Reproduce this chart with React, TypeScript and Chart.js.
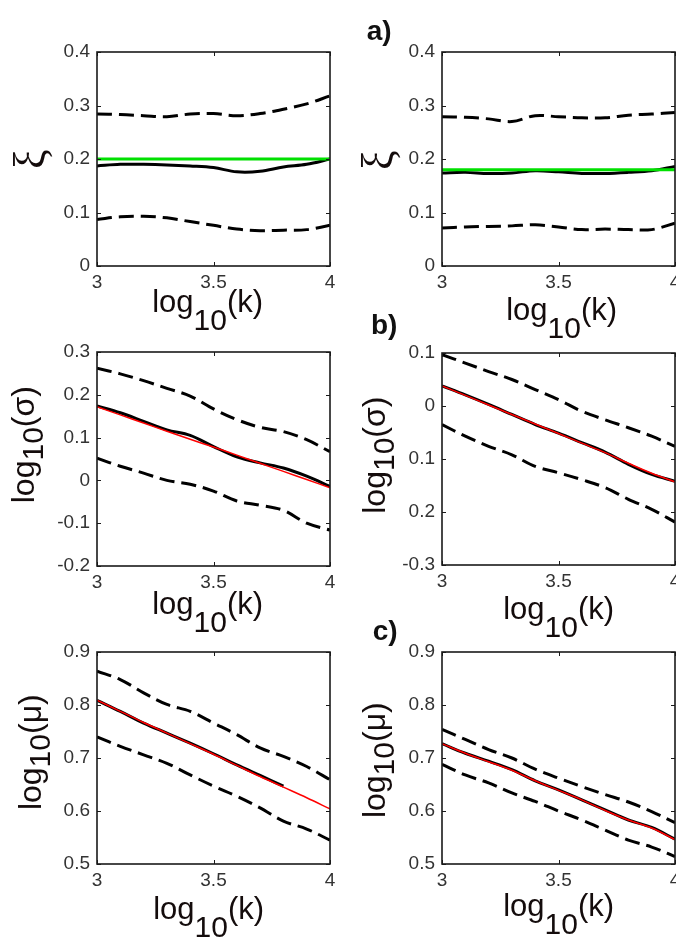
import React, { useEffect, useRef } from 'react';
import { Chart, registerables } from 'chart.js';

Chart.register(...registerables);

// ---------- data ----------
const kValues = [3.0, 3.1, 3.2, 3.3, 3.4, 3.5, 3.6, 3.7, 3.8, 3.9, 4.0];
const kTicks = [3, 3.5, 4];
const kTickLabels = ['3', '3.5', '4'];

const xiTicks = [0, 0.1, 0.2, 0.3, 0.4];
const xiTickLabels = ['0', '0.1', '0.2', '0.3', '0.4'];
const sigmaLeftTicks = [-0.2, -0.1, 0, 0.1, 0.2, 0.3];
const sigmaLeftTickLabels = ['-0.2', '-0.1', '0', '0.1', '0.2', '0.3'];
const sigmaRightTicks = [-0.3, -0.2, -0.1, 0, 0.1];
const sigmaRightTickLabels = ['-0.3', '0.2', '0.1', '0', '0.1'];
const muTicks = [0.5, 0.6, 0.7, 0.8, 0.9];
const muTickLabels = ['0.5', '0.6', '0.7', '0.8', '0.9'];

// a) xi, left
const xiLeftUpper = [0.284, 0.283, 0.281, 0.279, 0.284, 0.285, 0.281, 0.285, 0.293, 0.303, 0.318];
const xiLeftMean = [0.187, 0.19, 0.19, 0.189, 0.187, 0.184, 0.176, 0.177, 0.185, 0.19, 0.2];
const xiLeftLower = [0.087, 0.092, 0.093, 0.09, 0.083, 0.076, 0.069, 0.066, 0.067, 0.068, 0.076];
const xiLeftTrue = [0.2, 0.2, 0.2, 0.2, 0.2, 0.2, 0.2, 0.2, 0.2, 0.2, 0.2];
// a) xi, right
const xiRightUpper = [0.279, 0.278, 0.275, 0.27, 0.281, 0.279, 0.277, 0.277, 0.282, 0.284, 0.287];
const xiRightMean = [0.174, 0.175, 0.173, 0.174, 0.178, 0.176, 0.173, 0.173, 0.175, 0.178, 0.186];
const xiRightLower = [0.071, 0.073, 0.074, 0.075, 0.077, 0.073, 0.068, 0.069, 0.068, 0.068, 0.08];
const xiRightTrue = [0.18, 0.18, 0.18, 0.18, 0.18, 0.18, 0.18, 0.18, 0.18, 0.18, 0.18];
// b) log10(sigma), left
const sigmaLeftUpper = [0.262, 0.249, 0.233, 0.215, 0.197, 0.167, 0.142, 0.124, 0.114, 0.095, 0.067];
const sigmaLeftMean = [0.174, 0.158, 0.138, 0.118, 0.105, 0.079, 0.055, 0.041, 0.029, 0.01, -0.014];
const sigmaLeftLower = [0.052, 0.033, 0.017, 0.0, -0.009, -0.025, -0.048, -0.058, -0.07, -0.1, -0.116];
const sigmaLeftTrue = [0.172, 0.153, 0.134, 0.115, 0.096, 0.078, 0.059, 0.04, 0.021, 0.002, -0.017];
// b) log10(sigma), right
const sigmaRightUpper = [0.097, 0.081, 0.065, 0.05, 0.031, 0.012, -0.01, -0.026, -0.041, -0.057, -0.076];
const sigmaRightMean = [0.038, 0.021, 0.003, -0.016, -0.035, -0.051, -0.069, -0.087, -0.11, -0.129, -0.142];
const sigmaRightLower = [-0.035, -0.057, -0.076, -0.092, -0.114, -0.126, -0.139, -0.154, -0.176, -0.195, -0.219];
const sigmaRightTrue = [0.038, 0.02, 0.002, -0.016, -0.034, -0.052, -0.07, -0.088, -0.108, -0.127, -0.143];
// c) log10(mu), left
const muLeftUpper = [0.864, 0.848, 0.823, 0.801, 0.788, 0.766, 0.744, 0.719, 0.703, 0.684, 0.659];
const muLeftMean = [0.809, 0.788, 0.766, 0.747, 0.728, 0.708, 0.687, 0.667, 0.647, null, null];
const muLeftLower = [0.74, 0.722, 0.706, 0.69, 0.668, 0.647, 0.628, 0.606, 0.581, 0.566, 0.545];
const muLeftTrue = [0.809, 0.788, 0.767, 0.747, 0.727, 0.707, 0.686, 0.665, 0.645, 0.625, 0.604];
// c) log10(mu), right
const muRightUpper = [0.754, 0.735, 0.716, 0.7, 0.679, 0.662, 0.646, 0.631, 0.617, 0.599, 0.578];
const muRightMean = [0.727, 0.709, 0.694, 0.678, 0.657, 0.64, 0.621, 0.602, 0.583, 0.569, 0.547];
const muRightLower = [0.688, 0.668, 0.653, 0.634, 0.618, 0.6, 0.583, 0.564, 0.545, 0.532, 0.514];
const muRightTrue = [0.727, 0.709, 0.693, 0.677, 0.657, 0.639, 0.621, 0.601, 0.583, 0.568, 0.546];

// ---------- styling ----------
const SANS = '"Liberation Sans", Arial, Helvetica, sans-serif';
const SERIF = '"Liberation Serif", "Times New Roman", serif';
const GREEN = '#00e000';
const RED = '#ff0000';

type Part = { text: string; font: string; dy: number };

function xTitleParts(): Part[] {
  return [
    { text: 'log', font: `31px ${SANS}`, dy: 0 },
    { text: '10', font: `30px ${SANS}`, dy: 18 },
    { text: '(k)', font: `31px ${SANS}`, dy: 0 },
  ];
}
function yLogTitleParts(sym: string): Part[] {
  return [
    { text: 'log', font: `32px ${SANS}`, dy: 0 },
    { text: '10', font: `30px ${SANS}`, dy: 9 },
    { text: `(${sym})`, font: `32px ${SANS}`, dy: 0 },
  ];
}
function xiParts(): Part[] {
  return [{ text: 'ξ', font: `44px ${SERIF}`, dy: 0 }];
}

function drawComposite(ctx: CanvasRenderingContext2D, parts: Part[], cx: number, cy: number, rotate: boolean, color: string) {
  let x = 0;
  let minX = Infinity, maxX = -Infinity, minY = Infinity, maxY = -Infinity;
  const placed = parts.map((p) => {
    ctx.font = p.font;
    const m = ctx.measureText(p.text);
    const px = x;
    x += m.width;
    minX = Math.min(minX, px - m.actualBoundingBoxLeft);
    maxX = Math.max(maxX, px + m.actualBoundingBoxRight);
    minY = Math.min(minY, p.dy - m.actualBoundingBoxAscent);
    maxY = Math.max(maxY, p.dy + m.actualBoundingBoxDescent);
    return { ...p, px };
  });
  const ox = -(minX + maxX) / 2;
  const oy = -(minY + maxY) / 2;
  ctx.save();
  ctx.translate(cx, cy);
  if (rotate) ctx.rotate(-Math.PI / 2);
  ctx.textAlign = 'left';
  ctx.textBaseline = 'alphabetic';
  ctx.fillStyle = color;
  placed.forEach((p) => {
    ctx.font = p.font;
    ctx.fillText(p.text, p.px + ox, p.dy + oy);
  });
  ctx.restore();
}

type Label = { parts: Part[]; cx: number; cy: number; rotate: boolean; color: string };

type Panel = {
  canvas: { left: number; top: number; width: number; height: number };
  plot: { left: number; top: number; right: number; bottom: number };
  yMin: number;
  yMax: number;
  yTicks: number[];
  yTickLabels: string[];
  upper: (number | null)[];
  mean: (number | null)[];
  lower: (number | null)[];
  truth: (number | null)[];
  truthColor: string;
  truthWidth: number;
  labels: Label[];
};

const TITLE_COLOR = '#140c0c';

const panels: Panel[] = [
  {
    canvas: { left: 0, top: 0, width: 340, height: 345 },
    plot: { left: 97, top: 52, right: 330, bottom: 266 },
    yMin: 0, yMax: 0.4, yTicks: xiTicks, yTickLabels: xiTickLabels,
    upper: xiLeftUpper, mean: xiLeftMean, lower: xiLeftLower, truth: xiLeftTrue,
    truthColor: GREEN, truthWidth: 3,
    labels: [
      { parts: xiParts(), cx: 32.5, cy: 159, rotate: true, color: TITLE_COLOR },
      { parts: xTitleParts(), cx: 208, cy: 309.5, rotate: false, color: TITLE_COLOR },
    ],
  },
  {
    canvas: { left: 340, top: 0, width: 336, height: 345 },
    plot: { left: 442, top: 52, right: 675, bottom: 266 },
    yMin: 0, yMax: 0.4, yTicks: xiTicks, yTickLabels: xiTickLabels,
    upper: xiRightUpper, mean: xiRightMean, lower: xiRightLower, truth: xiRightTrue,
    truthColor: GREEN, truthWidth: 3,
    labels: [
      { parts: xiParts(), cx: 380.5, cy: 160, rotate: true, color: TITLE_COLOR },
      { parts: xTitleParts(), cx: 562, cy: 317.5, rotate: false, color: TITLE_COLOR },
      { parts: [{ text: 'a)', font: `bold 28px ${SANS}`, dy: 0 }], cx: 378.5, cy: 32.5, rotate: false, color: '#111' },
    ],
  },
  {
    canvas: { left: 0, top: 300, width: 340, height: 345 },
    plot: { left: 97, top: 352, right: 330, bottom: 566 },
    yMin: -0.2, yMax: 0.3, yTicks: sigmaLeftTicks, yTickLabels: sigmaLeftTickLabels,
    upper: sigmaLeftUpper, mean: sigmaLeftMean, lower: sigmaLeftLower, truth: sigmaLeftTrue,
    truthColor: RED, truthWidth: 1.5,
    labels: [
      { parts: yLogTitleParts('σ'), cx: 26.5, cy: 444.5, rotate: true, color: TITLE_COLOR },
      { parts: xTitleParts(), cx: 208, cy: 611.5, rotate: false, color: TITLE_COLOR },
    ],
  },
  {
    canvas: { left: 340, top: 300, width: 336, height: 345 },
    plot: { left: 442, top: 353, right: 675, bottom: 565 },
    yMin: -0.3, yMax: 0.1, yTicks: sigmaRightTicks, yTickLabels: sigmaRightTickLabels,
    upper: sigmaRightUpper, mean: sigmaRightMean, lower: sigmaRightLower, truth: sigmaRightTrue,
    truthColor: RED, truthWidth: 1.5,
    labels: [
      { parts: yLogTitleParts('σ'), cx: 377.5, cy: 455, rotate: true, color: TITLE_COLOR },
      { parts: xTitleParts(), cx: 559, cy: 616.5, rotate: false, color: TITLE_COLOR },
      { parts: [{ text: 'b)', font: `bold 28px ${SANS}`, dy: 0 }], cx: 384, cy: 327, rotate: false, color: '#111' },
    ],
  },
  {
    canvas: { left: 0, top: 610, width: 340, height: 330 },
    plot: { left: 97, top: 652, right: 330, bottom: 864 },
    yMin: 0.5, yMax: 0.9, yTicks: muTicks, yTickLabels: muTickLabels,
    upper: muLeftUpper, mean: muLeftMean, lower: muLeftLower, truth: muLeftTrue,
    truthColor: RED, truthWidth: 1.5,
    labels: [
      { parts: yLogTitleParts('μ'), cx: 33.5, cy: 752, rotate: true, color: TITLE_COLOR },
      { parts: xTitleParts(), cx: 209, cy: 916.5, rotate: false, color: TITLE_COLOR },
    ],
  },
  {
    canvas: { left: 340, top: 610, width: 336, height: 330 },
    plot: { left: 442, top: 652, right: 675, bottom: 864 },
    yMin: 0.5, yMax: 0.9, yTicks: muTicks, yTickLabels: muTickLabels,
    upper: muRightUpper, mean: muRightMean, lower: muRightLower, truth: muRightTrue,
    truthColor: RED, truthWidth: 1.5,
    labels: [
      { parts: yLogTitleParts('μ'), cx: 378, cy: 760, rotate: true, color: TITLE_COLOR },
      { parts: xTitleParts(), cx: 559, cy: 913.5, rotate: false, color: TITLE_COLOR },
      { parts: [{ text: 'c)', font: `bold 28px ${SANS}`, dy: 0 }], cx: 385, cy: 632.5, rotate: false, color: '#111' },
    ],
  },
];

function toPoints(ys: (number | null)[]) {
  return kValues.map((k, i) => ({ x: k, y: ys[i] }));
}

function PanelChart({ p }: { p: Panel }) {
  const ref = useRef<HTMLCanvasElement | null>(null);
  const c = p.canvas;
  useEffect(() => {
    if (!ref.current) return;
    const pl = p.plot;
    const padTop = pl.top - c.top;
    const padRight = c.left + c.width - pl.right;
    const yW = pl.left - c.left;
    const xH = c.top + c.height - pl.bottom;

    const overlay = {
      id: 'overlay',
      afterDraw(chart: any) {
        const ctx: CanvasRenderingContext2D = chart.ctx;
        const a = chart.chartArea;
        const xs = chart.scales.x;
        const ys = chart.scales.y;
        ctx.save();
        ctx.strokeStyle = '#1a1a1a';
        ctx.lineWidth = 1;
        const tl = 4;
        ctx.beginPath();
        kTicks.forEach((v) => {
          const px = Math.round(xs.getPixelForValue(v)) + 0.5;
          ctx.moveTo(px, a.bottom);
          ctx.lineTo(px, a.bottom - tl);
          ctx.moveTo(px, a.top);
          ctx.lineTo(px, a.top + tl);
        });
        p.yTicks.forEach((v) => {
          const py = Math.round(ys.getPixelForValue(v)) + 0.5;
          ctx.moveTo(a.left, py);
          ctx.lineTo(a.left + tl, py);
          ctx.moveTo(a.right, py);
          ctx.lineTo(a.right - tl, py);
        });
        ctx.stroke();
        ctx.lineWidth = 1.6;
        ctx.strokeRect(a.left, a.top, a.right - a.left, a.bottom - a.top);
        ctx.restore();
        p.labels.forEach((l) => {
          drawComposite(ctx, l.parts, l.cx - c.left, l.cy - c.top, l.rotate, l.color);
        });
      },
    };

    const dashed = {
      borderColor: '#000',
      borderWidth: 3,
      borderDash: [15, 7],
      order: 2,
    };

    const chart = new Chart(ref.current, {
      type: 'line',
      data: {
        datasets: [
          { data: toPoints(p.truth), borderColor: p.truthColor, borderWidth: p.truthWidth, order: 0 },
          { data: toPoints(p.mean), borderColor: '#000', borderWidth: 3, order: 1 },
          { data: toPoints(p.upper), ...dashed },
          { data: toPoints(p.lower), ...dashed },
        ] as any,
      },
      options: {
        animation: false,
        responsive: false,
        maintainAspectRatio: false,
        devicePixelRatio: 1,
        layout: { padding: { top: padTop, right: padRight, left: 0, bottom: 0 } },
        plugins: {
          legend: { display: false },
          tooltip: { enabled: false },
          title: { display: false },
        },
        elements: {
          point: { radius: 0, hoverRadius: 0 },
          line: { tension: 0.35, fill: false, borderCapStyle: 'butt' },
        },
        scales: {
          x: {
            type: 'linear',
            min: 3,
            max: 4,
            grid: { display: false, drawTicks: false },
            border: { display: false },
            afterBuildTicks: (s: any) => {
              s.ticks = kTicks.map((v) => ({ value: v }));
            },
            afterFit: (s: any) => {
              s.height = xH;
              s.paddingLeft = 0;
              s.paddingRight = 0;
            },
            ticks: {
              padding: 5,
              color: '#333',
              font: { family: SANS, size: 19 },
              maxRotation: 0,
              autoSkip: false,
              callback: (_v: any, i: number) => kTickLabels[i],
            },
          },
          y: {
            type: 'linear',
            min: p.yMin,
            max: p.yMax,
            grid: { display: false, drawTicks: false },
            border: { display: false },
            afterBuildTicks: (s: any) => {
              s.ticks = p.yTicks.map((v) => ({ value: v }));
            },
            afterFit: (s: any) => {
              s.width = yW;
              s.paddingTop = 0;
              s.paddingBottom = 0;
            },
            ticks: {
              padding: 7,
              color: '#333',
              font: { family: SANS, size: 19 },
              autoSkip: false,
              callback: (_v: any, i: number) => p.yTickLabels[i],
            },
          },
        },
      } as any,
      plugins: [overlay],
    });
    return () => chart.destroy();
  }, []);
  return (
    <canvas
      ref={ref}
      width={c.width}
      height={c.height}
      style={{ position: 'absolute', left: c.left, top: c.top, width: c.width, height: c.height }}
    />
  );
}

export default function App() {
  return (
    <div
      style={{
        position: 'absolute',
        left: 0,
        top: 0,
        width: 676,
        height: 940,
        background: '#ffffff',
        overflow: 'hidden',
      }}
    >
      {panels.map((p, i) => (
        <PanelChart key={i} p={p} />
      ))}
    </div>
  );
}
